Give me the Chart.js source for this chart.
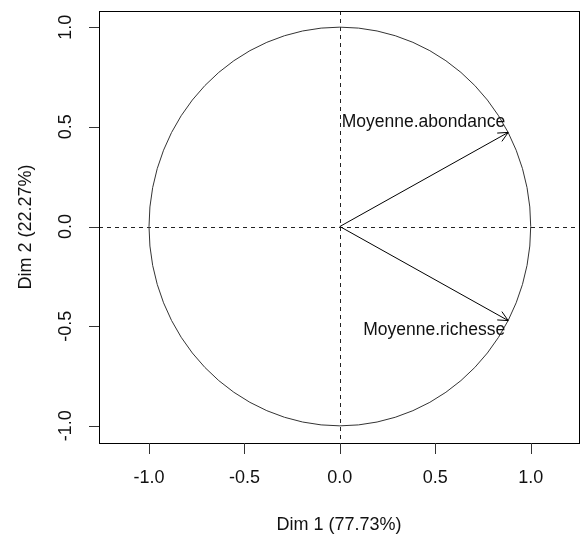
<!DOCTYPE html>
<html>
<head>
<meta charset="utf-8">
<script src="https://cdn.jsdelivr.net/npm/chart.js@4"></script>
<style>
  html, body { margin: 0; padding: 0; background: #fff; }
  canvas { display: block; }
</style>
</head>
<body>
<canvas id="chart-circle" width="587" height="534"></canvas>
<script>
var variables = ["Moyenne.abondance", "Moyenne.richesse"];
var dim1 = [0.882, 0.882];
var dim2 = [0.472, -0.472];
var tickValues = [-1.0, -0.5, 0.0, 0.5, 1.0];
var tickLabels = ["-1.0", "-0.5", "0.0", "0.5", "1.0"];
var axisTitles = ["Dim 1 (77.73%)", "Dim 2 (22.27%)"];

var FONT = "18px 'Liberation Sans', Arial, sans-serif";

var circlePlugin = {
  id: "circle",
  beforeDatasetsDraw: function(chart) {
    var ctx = chart.ctx, xs = chart.scales.x, ys = chart.scales.y, a = chart.chartArea;
    var cx = xs.getPixelForValue(0), cy = ys.getPixelForValue(0);
    ctx.save();
    // dashed reference lines
    ctx.strokeStyle = "#222";
    ctx.lineWidth = 1;
    ctx.setLineDash([4, 4]);
    ctx.beginPath();
    ctx.moveTo(a.left, Math.round(cy) + 0.5);
    ctx.lineTo(a.right, Math.round(cy) + 0.5);
    ctx.moveTo(Math.round(cx) + 0.5, a.top);
    ctx.lineTo(Math.round(cx) + 0.5, a.bottom);
    ctx.stroke();
    ctx.setLineDash([]);
    // unit circle
    var rx = xs.getPixelForValue(1) - cx, ry = cy - ys.getPixelForValue(1);
    ctx.strokeStyle = "#333";
    ctx.beginPath();
    ctx.ellipse(cx, cy, rx, ry, 0, 0, Math.PI * 2);
    ctx.stroke();
    ctx.restore();
  },
  afterDatasetsDraw: function(chart) {
    var ctx = chart.ctx, xs = chart.scales.x, ys = chart.scales.y, a = chart.chartArea;
    var cx = xs.getPixelForValue(0), cy = ys.getPixelForValue(0);
    ctx.save();
    // arrow heads and labels
    ctx.strokeStyle = "#000";
    ctx.lineWidth = 1;
    for (var i = 0; i < variables.length; i++) {
      var tx = xs.getPixelForValue(dim1[i]), ty = ys.getPixelForValue(dim2[i]);
      var ang = Math.atan2(ty - cy, tx - cx), len = 11, spread = Math.PI / 7;
      ctx.beginPath();
      ctx.moveTo(tx - len * Math.cos(ang - spread), ty - len * Math.sin(ang - spread));
      ctx.lineTo(tx, ty);
      ctx.lineTo(tx - len * Math.cos(ang + spread), ty - len * Math.sin(ang + spread));
      ctx.stroke();
      ctx.fillStyle = "#111";
      ctx.font = "17.5px 'Liberation Sans', Arial, sans-serif";
      ctx.textAlign = "right";
      ctx.textBaseline = "middle";
      ctx.fillText(variables[i], tx - 3, ty + (dim2[i] > 0 ? -10 : 10));
    }
    // box
    ctx.strokeStyle = "#000";
    ctx.strokeRect(a.left + 0.5, a.top + 0.5, a.right - a.left, a.bottom - a.top);
    // axis ticks
    ctx.strokeStyle = "#333";
    ctx.fillStyle = "#111";
    ctx.font = FONT;
    ctx.beginPath();
    tickValues.forEach(function(v) {
      var px = Math.round(xs.getPixelForValue(v)) + 0.5;
      ctx.moveTo(px, a.bottom);
      ctx.lineTo(px, a.bottom + 11);
      var py = Math.round(ys.getPixelForValue(v)) + 0.5;
      ctx.moveTo(a.left, py);
      ctx.lineTo(a.left - 10, py);
    });
    ctx.stroke();
    ctx.textAlign = "center";
    ctx.textBaseline = "middle";
    tickValues.forEach(function(v, k) {
      ctx.fillText(tickLabels[k], xs.getPixelForValue(v), 478);
      ctx.save();
      ctx.translate(66, ys.getPixelForValue(v));
      ctx.rotate(-Math.PI / 2);
      ctx.fillText(tickLabels[k], 0, 0);
      ctx.restore();
    });
    // axis titles
    ctx.fillText(axisTitles[0], (a.left + a.right) / 2, 525);
    ctx.save();
    ctx.translate(26, (a.top + a.bottom) / 2);
    ctx.rotate(-Math.PI / 2);
    ctx.fillText(axisTitles[1], 0, 0);
    ctx.restore();
    ctx.restore();
  }
};

var arrowSets = variables.map(function(name, i) {
  return {
    label: name,
    data: [{ x: 0, y: 0 }, { x: dim1[i], y: dim2[i] }],
    showLine: true,
    borderColor: "#000",
    borderWidth: 1,
    pointRadius: 0
  };
});

var ctx = document.getElementById("chart-circle").getContext("2d");
var chartCircle = new Chart(ctx, {
  type: "scatter",
  data: { datasets: arrowSets },
  options: {
    responsive: false,
    animation: false,
    layout: { padding: { left: 99, right: 8, top: 11, bottom: 91 } },
    scales: {
      x: { type: "linear", min: -1.262, max: 1.253, display: false },
      y: { type: "linear", min: -1.086, max: 1.081, display: false }
    },
    plugins: {
      legend: { display: false },
      tooltip: { enabled: false }
    }
  },
  plugins: [circlePlugin]
});
</script>
</body>
</html>
